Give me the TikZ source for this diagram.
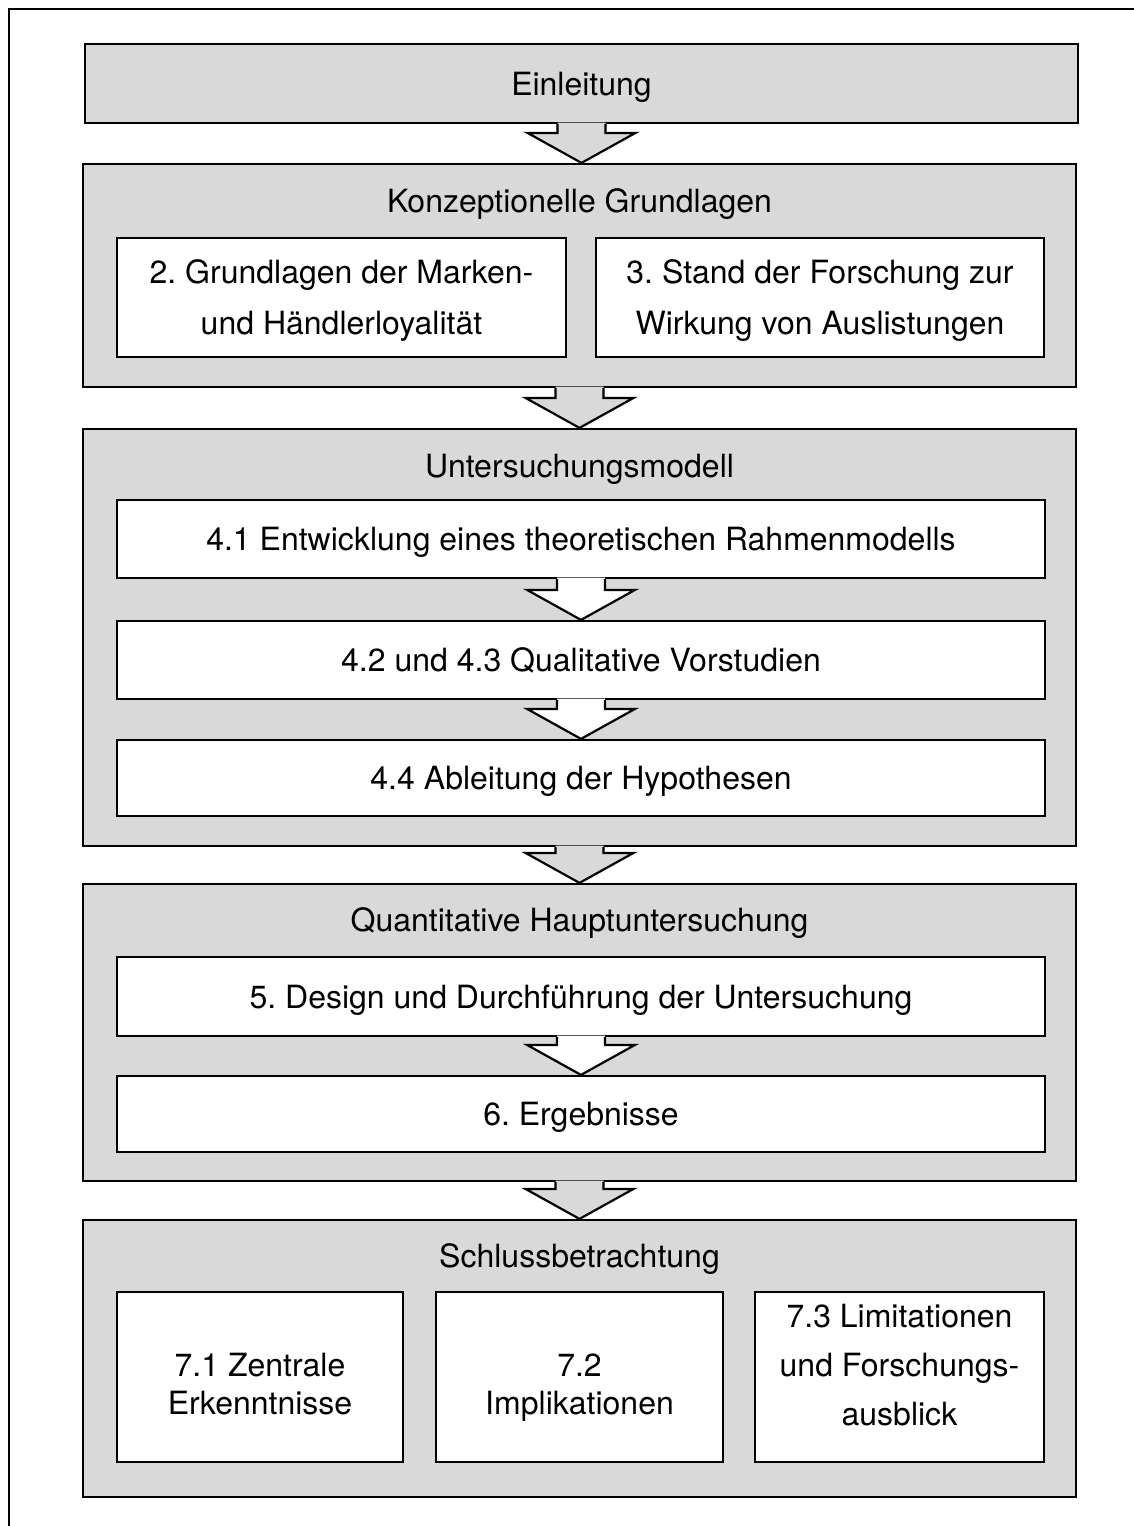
\documentclass[tikz,border=0pt]{standalone}
\usepackage{fontspec}
\setmainfont{TeX Gyre Heros}
\usetikzlibrary{calc}
\frenchspacing

\definecolor{panelgray}{HTML}{D9D9D9}

\tikzset{
  every node/.style={font=\fontsize{32}{50}\selectfont, text height=23pt, text depth=0pt},
  framebox/.style={draw=black, line width=2.2pt, inner sep=0pt, align=center},
  panel/.style={framebox, fill=panelgray},
  itembox/.style={framebox, fill=white},
  title/.style={inner sep=0pt, anchor=center},
  % multi-line texts: the box baseline is that of the last line
  twolines/.style={font=\fontsize{32}{51}\selectfont, text height=74pt},
  tighttwo/.style={font=\fontsize{32}{38}\selectfont, text height=61pt, align=center},
  threelines/.style={font=\fontsize{32}{49}\selectfont, text height=121pt, align=center},
  arrline/.style={draw=black, line width=2.2pt, line join=miter},
}

% block arrow from the bottom of one box to the top of the next
\newcommand{\flowarrow}[3]{%
  \fill[#3] let \p1=(#1.south), \p2=(#2.north) in
    (\x1-24pt,\y1+1.6pt) -- (\x1-24pt,\y2+30pt) -- (\x1-54pt,\y2+30pt) --
    (\x1,\y2) -- (\x1+54pt,\y2+30pt) -- (\x1+24pt,\y2+30pt) --
    (\x1+24pt,\y1+1.6pt) -- cycle;
  \draw[arrline] let \p1=(#1.south), \p2=(#2.north) in
    (\x1-24pt,\y1) -- (\x1-24pt,\y2+30pt) -- (\x1-54pt,\y2+30pt) --
    (\x1,\y2) -- (\x1+54pt,\y2+30pt) -- (\x1+24pt,\y2+30pt) -- (\x1+24pt,\y1);
}

\begin{document}
\begin{tikzpicture}[x=1pt, y=-1pt]
\useasboundingbox (0,0) rectangle (1134,1526);
\clip (0,0) rectangle (1134,1526);
\fill[white] (0,0) rectangle (1134,1526);

% page frame
\draw[line width=2.2pt] (1140,9) -- (9,9) -- (9,1532);

% introduction
\node[panel, minimum width=993pt, minimum height=79pt] (intro) at (581.5,83.5) {Einleitung};

% conceptual foundations
\node[panel, minimum width=993pt, minimum height=223pt] (konz) at (579.5,275.5) {};
\node[title] (konzT) at (579.5,201) {Konzeptionelle Grundlagen};
\node[itembox, twolines, minimum width=449pt, minimum height=119pt] (grund) at (341.5,297.5)
  {2. Grundlagen der Marken-\\und Händlerloyalität};
\node[itembox, twolines, minimum width=448pt, minimum height=119pt] (stand) at (820,297.5)
  {3. Stand der Forschung zur\\Wirkung von Auslistungen};

% research model
\node[panel, minimum width=993pt, minimum height=417pt] (modell) at (579.5,637.5) {};
\node[title] (modellT) at (579.5,466) {Untersuchungsmodell};
\node[itembox, minimum width=928pt, minimum height=78pt] (rahmen) at (581,539)
  {4.1 Entwicklung eines theoretischen Rahmenmodells};
\node[itembox, minimum width=928pt, minimum height=78pt] (vorst) at (581,660)
  {4.2 und 4.3 Qualitative Vorstudien};
\node[itembox, minimum width=928pt, minimum height=76pt] (hypo) at (581,778)
  {4.4 Ableitung der Hypothesen};

% main quantitative study
\node[panel, minimum width=993pt, minimum height=297pt] (haupt) at (579.5,1032.5) {};
\node[title] (hauptT) at (579.5,920) {Quantitative Hauptuntersuchung};
\node[itembox, minimum width=928pt, minimum height=79pt] (design) at (581,996.5)
  {5. Design und Durchführung der Untersuchung};
\node[itembox, minimum width=928pt, minimum height=76pt] (ergeb) at (581,1114)
  {6. Ergebnisse};

% conclusion
\node[panel, minimum width=993pt, minimum height=277pt] (schluss) at (579.5,1358.5) {};
\node[title] (schlussT) at (579.5,1256) {Schlussbetrachtung};
\node[itembox, minimum width=286pt, minimum height=170pt] (zentral) at (260,1377) {};
\node[title, tighttwo] (zentralT) at (260,1384) {7.1 Zentrale\\Erkenntnisse};
\node[itembox, minimum width=287pt, minimum height=170pt] (impl) at (579.5,1377) {};
\node[title, tighttwo] (implT) at (579.5,1384) {7.2\\Implikationen};
\node[itembox, minimum width=289pt, minimum height=170pt] (limit) at (899.5,1377) {};
\node[title, threelines] (limitT) at (899.5,1365)
  {7.3 Limitationen\\und Forschungs-\\ausblick};

% arrows between the stages
\flowarrow{intro}{konz}{panelgray}
\flowarrow{konz}{modell}{panelgray}
\flowarrow{rahmen}{vorst}{white}
\flowarrow{vorst}{hypo}{white}
\flowarrow{modell}{haupt}{panelgray}
\flowarrow{design}{ergeb}{white}
\flowarrow{haupt}{schluss}{panelgray}
\end{tikzpicture}
\end{document}
